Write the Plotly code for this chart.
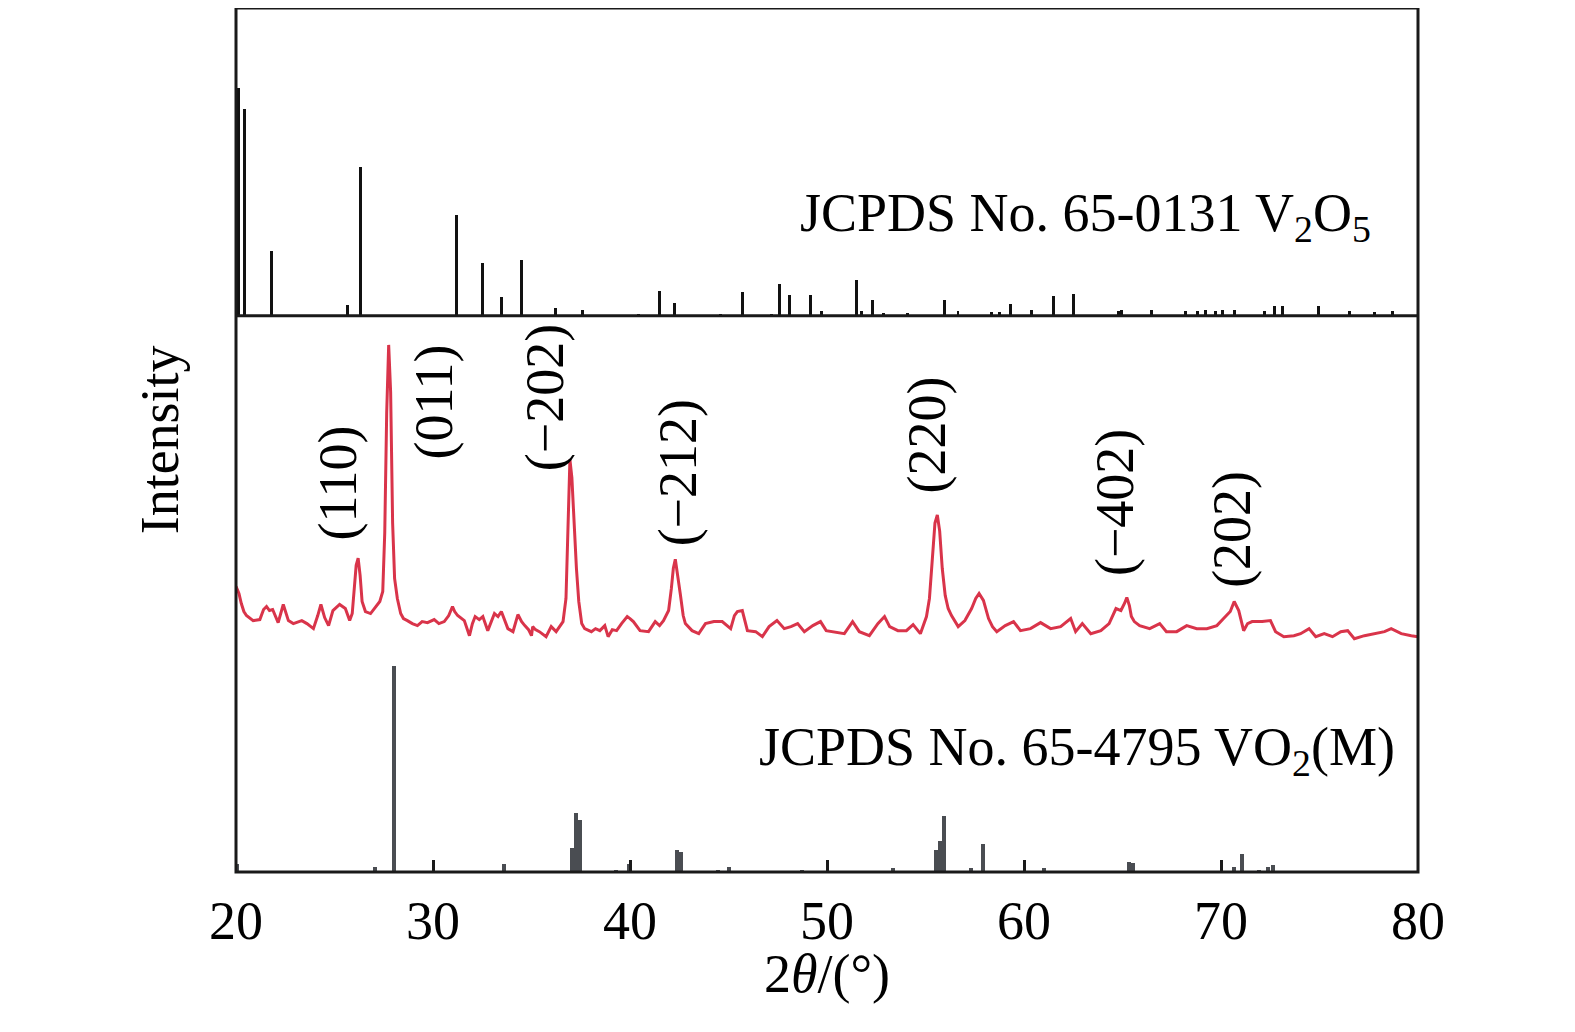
import plotly.graph_objects as go
from plotly.subplots import make_subplots

# JCPDS 65-0131 V2O5 reference sticks (2theta, relative intensity)
v2o5_pos = [20.11, 20.41, 21.81, 25.68, 26.31, 31.2, 32.53, 33.5, 34.48, 36.2, 37.6,
            40.44, 41.48, 42.26, 44.6, 45.72, 47.19, 47.58, 48.12, 49.14, 49.72,
            51.49, 51.75, 52.3, 52.86, 54.08, 55.94, 56.65, 58.37, 58.78, 59.33,
            60.39, 61.5, 62.51, 64.8, 64.95, 66.46, 68.18, 68.79, 69.19, 69.7,
            70.1, 70.7, 72.2, 72.7, 73.1, 74.96, 76.5, 77.8, 78.7]
v2o5_int = [226, 206, 64, 11, 148, 100, 52, 19, 55, 8, 6,
            2, 25, 13, 2, 24, 2, 32, 21, 21, 5,
            36, 5, 16, 3, 3, 16, 5, 4, 4, 12,
            6, 20, 22, 5, 6, 6, 5, 5, 6, 5,
            6, 6, 5, 10, 10, 10, 5, 4, 5]

# sample pattern (red)
two_theta = [20.0, 20.15, 20.27, 20.4, 20.53, 20.87, 21.21, 21.4, 21.55, 21.7, 21.86, 22.14,
             22.4, 22.66, 22.91, 23.34, 23.6, 23.93, 24.15, 24.31, 24.5, 24.7, 24.92, 25.1,
             25.26, 25.55, 25.77, 25.9, 26.0, 26.1, 26.2, 26.3, 26.4, 26.57, 26.83, 27.0,
             27.17, 27.3, 27.45, 27.55, 27.65, 27.75, 27.85, 27.95, 28.05, 28.19, 28.36, 28.5,
             28.7, 28.95, 29.21, 29.45, 29.72, 30.06, 30.3, 30.57, 30.8, 30.99, 31.1, 31.25,
             31.59, 31.85, 32.0, 32.14, 32.35, 32.53, 32.78, 33.12, 33.3, 33.47, 33.8, 34.06,
             34.31, 34.5, 34.66, 34.85, 35.0, 35.06, 35.2, 35.4, 35.74, 36.0, 36.25, 36.45,
             36.6, 36.75, 36.85, 36.95, 37.05, 37.15, 37.28, 37.4, 37.55, 37.7, 38.04, 38.25,
             38.47, 38.72, 38.89, 39.1, 39.32, 39.57, 39.86, 40.0, 40.17, 40.51, 40.94, 41.28,
             41.5, 41.7, 41.96, 42.1, 42.2, 42.3, 42.4, 42.55, 42.7, 42.81, 43.15, 43.49,
             43.83, 44.26, 44.68, 44.9, 45.11, 45.3, 45.45, 45.7, 45.85, 45.96, 46.38, 46.72,
             47.06, 47.46, 47.83, 48.17, 48.51, 48.85, 49.28, 49.67, 49.96, 50.3, 50.45, 50.88,
             51.3, 51.64, 52.15, 52.58, 52.92, 53.18, 53.6, 54.03, 54.37, 54.74, 55.05, 55.2,
             55.35, 55.48, 55.6, 55.72, 55.85, 56.0, 56.15, 56.32, 56.66, 57.0, 57.34, 57.55,
             57.72, 57.94, 58.2, 58.4, 58.62, 59.05, 59.47, 59.82, 60.33, 60.84, 61.35, 61.86,
             62.37, 62.62, 62.96, 63.39, 63.9, 64.32, 64.67, 64.92, 65.1, 65.22, 65.35, 65.45,
             65.6, 65.87, 66.38, 66.89, 67.23, 67.75, 68.26, 68.77, 69.28, 69.79, 70.13, 70.47,
             70.67, 70.9, 71.15, 71.35, 71.58, 72.09, 72.51, 72.77, 73.19, 73.7, 74.04, 74.47,
             74.81, 75.24, 75.66, 76.08, 76.43, 76.77, 77.28, 77.79, 78.3, 78.64, 79.15, 79.66,
             80.0]
intensity = [57, 50, 40, 32, 28, 23, 24, 34, 37, 33, 34, 21,
             39, 23, 20, 23, 20, 15, 28, 39, 26, 18, 33, 36,
             39, 35, 23, 30, 57, 78, 85, 68, 42, 32, 30, 34,
             38, 42, 52, 110, 230, 297, 250, 120, 65, 45, 30, 25,
             23, 20, 18, 22, 21, 24, 20, 22, 28, 37, 32, 28,
             23, 8, 20, 27, 24, 27, 13, 30, 27, 32, 15, 12,
             29, 22, 18, 14, 8, 17, 14, 12, 7, 17, 12, 18,
             22, 45, 130, 183, 165, 120, 75, 42, 20, 15, 12, 15,
             13, 18, 7, 14, 13, 20, 27, 25, 22, 13, 12, 22,
             18, 23, 33, 55, 75, 84, 72, 50, 28, 20, 13, 10,
             20, 22, 22, 18, 15, 28, 32, 33, 22, 13, 12, 7,
             17, 23, 15, 17, 20, 12, 18, 22, 13, 12, 12, 10,
             22, 12, 8, 20, 27, 17, 13, 13, 19, 10, 27, 45,
             85, 120, 128, 112, 75, 48, 35, 28, 17, 23, 35, 45,
             50, 43, 25, 17, 12, 18, 22, 13, 15, 21, 15, 17,
             25, 12, 20, 10, 13, 20, 35, 33, 40, 46, 38, 27,
             22, 18, 15, 20, 12, 12, 18, 15, 15, 18, 25, 32,
             42, 33, 13, 20, 22, 22, 23, 12, 7, 8, 10, 15,
             7, 10, 7, 12, 13, 5, 8, 10, 12, 15, 10, 8,
             7]

# JCPDS 65-4795 VO2(M) reference sticks
vo2_pos = [20.05, 27.05, 28.03, 33.6, 37.06, 37.26, 37.45, 39.27, 39.96, 42.4, 42.6,
           44.45, 45.04, 48.75, 53.35, 55.55, 55.73, 55.94, 57.3, 57.92, 61.0,
           65.35, 65.55, 70.67, 71.05, 71.93, 72.39, 72.63]
vo2_int = [8, 5, 205, 8, 24, 59, 52, 2, 8, 22, 20,
           2, 5, 2, 4, 22, 31, 56, 4, 28, 4,
           10, 9, 5, 18, 2, 5, 7]

peak_labels = ["(110)", "(011)", "(\u2212202)", "(\u2212212)", "(220)", "(\u2212402)", "(202)"]
label_x = [25.16, 30.06, 35.68, 42.42, 55.08, 64.63, 70.55]
label_y = [160, 240, 245, 170, 207, 140, 114]

FONT = "Liberation Serif"
FS = 54

fig = make_subplots(rows=3, cols=1, shared_xaxes=True, vertical_spacing=0)

fig.add_trace(go.Bar(x=v2o5_pos, y=v2o5_int, width=0.15, marker_color="#111111",
                     marker_line_width=0), row=1, col=1)
fig.add_trace(go.Scatter(x=two_theta, y=intensity, mode="lines",
                         line=dict(color="#d9344a", width=3)), row=2, col=1)
fig.add_trace(go.Bar(x=vo2_pos, y=vo2_int, width=0.2, marker_color="#4a4d52",
                     marker_line_width=0), row=3, col=1)

for lab, lx, ly in zip(peak_labels, label_x, label_y):
    fig.add_annotation(x=lx, y=ly, xref="x2", yref="y2", text=lab, textangle=-90,
                       xanchor="center", yanchor="middle", showarrow=False,
                       font=dict(family=FONT, size=FS, color="black"))

fig.add_annotation(x=77.7, y=99, xref="x", yref="y", xanchor="right", yanchor="middle",
                   text="JCPDS No. 65-0131 V<sub>2</sub>O<sub>5</sub>", showarrow=False,
                   font=dict(family=FONT, size=FS, color="black"))
fig.add_annotation(x=78.95, y=121, xref="x3", yref="y3", xanchor="right", yanchor="middle",
                   text="JCPDS No. 65-4795 VO<sub>2</sub>(M)", showarrow=False,
                   font=dict(family=FONT, size=FS, color="black"))

fig.add_annotation(x=-0.064, y=0.50, xref="paper", yref="paper", text="Intensity",
                   textangle=-90, xanchor="center", yanchor="middle", showarrow=False,
                   font=dict(family=FONT, size=FS, color="black"))
fig.add_annotation(x=0.5, y=-0.118, xref="paper", yref="paper", text="2<i>θ</i>/(°)",
                   xanchor="center", yanchor="middle", showarrow=False,
                   font=dict(family=FONT, size=FS, color="black"))

# frame and panel divider
fig.add_shape(type="rect", xref="paper", yref="paper", x0=0, x1=1, y0=0, y1=1,
              line=dict(color="#1a1a1a", width=3))
fig.add_shape(type="line", xref="paper", yref="paper", x0=0, x1=1, y0=0.6438, y1=0.6438,
              line=dict(color="#1a1a1a", width=3))

fig.update_xaxes(range=[20, 80], showgrid=False, zeroline=False, showline=False)
fig.update_xaxes(showticklabels=False, ticks="", row=1, col=1)
fig.update_xaxes(showticklabels=False, ticks="", row=2, col=1)
fig.update_xaxes(ticks="inside", ticklen=12, tickwidth=3, tickcolor="#1a1a1a",
                 tickvals=[20, 30, 40, 50, 60, 70, 80], ticklabelstandoff=12,
                 tickfont=dict(family=FONT, size=FS, color="black"), row=3, col=1)
fig.update_yaxes(showgrid=False, zeroline=False, showline=False, showticklabels=False,
                 ticks="")

fig.update_layout(
    width=1575, height=1032,
    margin=dict(l=228, r=165, t=0, b=168),
    plot_bgcolor="white", paper_bgcolor="white",
    showlegend=False, bargap=0,
    yaxis=dict(domain=[0.6438, 1.0], range=[0, 306]),
    yaxis2=dict(domain=[0.2642, 0.6438], range=[0, 326]),
    yaxis3=dict(domain=[0.0, 0.2642], range=[0, 227]),
)

fig.write_html("out.html")
